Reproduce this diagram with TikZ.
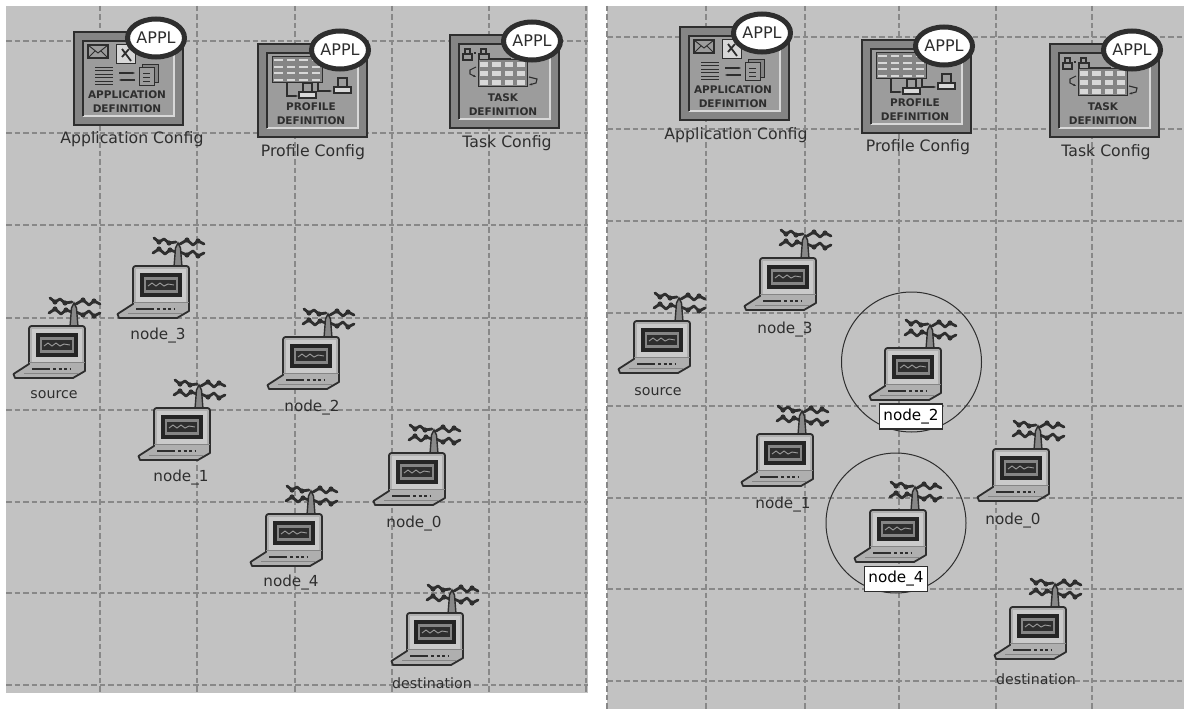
\documentclass[tikz,border=0pt]{standalone}
\usepackage{fontspec}
\setmainfont{DejaVu Sans}
\usetikzlibrary{arrows.meta,shapes.geometric}
\definecolor{panel}{HTML}{C2C2C2}
\definecolor{gridc}{HTML}{888888}
\definecolor{ink}{HTML}{2E2E2E}
\definecolor{band}{HTML}{858585}
\definecolor{inner}{HTML}{9C9C9C}
\definecolor{pale}{HTML}{D8D8D8}
\definecolor{bezel}{HTML}{CACACA}
\tikzset{
  x=1pt,y=-1pt,
  gridline/.style={gridc,line width=1.2pt,dash pattern=on 5.5pt off 3pt},
  nodelabel/.style={inner sep=0pt,text=ink,font=\fontsize{15.2}{15}\selectfont},
  endlabel/.style={inner sep=0pt,text=ink,font=\fontsize{14.2}{15}\selectfont},
  cfglabel/.style={inner sep=0pt,text=ink,font=\fontsize{15.7}{16}\selectfont},
  boxlabel/.style={draw=ink,fill=white,line width=1.2pt,minimum width=63pt,minimum height=25pt,inner sep=0pt,text=black,font=\fontsize{15.2}{15}\selectfont},
  rangecircle/.style={draw=ink,line width=1pt},
  icontitle/.style={inner sep=0pt,text=ink,font=\fontsize{10.5}{10.5}\selectfont\bfseries},
  applbadge/.style={ellipse,draw=ink,fill=white,line width=5pt,minimum width=57pt,minimum height=38pt,inner sep=0pt,text=ink,font=\fontsize{16}{16}\selectfont},
  glyph/.style={draw=ink,line width=1pt},
  branch/.style={ink,line width=2.8pt,line cap=round,line join=round}
}
% laptop: #1 x, #2 y of the lid's top-left corner
\newcommand{\laptop}[2]{%
\begin{scope}[shift={(#1,#2)}]
  \draw[branch] (21,-28) -- (26,-24) -- (31,-27) -- (36,-23) -- (43,-24);
  \draw[branch] (20,-13) -- (26,-17) -- (32,-12) -- (37,-16) -- (43,-14);
  \draw[branch] (47,-22) -- (54,-26) -- (60,-21) -- (65,-25) -- (71,-22);
  \draw[branch] (47,-14) -- (54,-11) -- (60,-15) -- (65,-10) -- (71,-13);
  \foreach \bx/\by in {26/-24,36/-23,26/-17,37/-16,54/-26,65/-25,54/-11,65/-10}{\fill[ink] (\bx,\by) circle (2.6);}
  \draw[ink,fill=gridc,line width=1.4pt] (41,1) -- (42.5,-18) -- (45,-23) -- (47.5,-18) -- (49,1) -- cycle;
  \draw[ink,fill=panel!90!black,line width=1.8pt,line join=round] (-15.5,48) -- (0,38) -- (0,3) [rounded corners=2.5pt] -- (0,0) -- (56,0) [sharp corners] -- (56,45) -- (44,52) -- (-14,52) -- cycle;
  \fill[bezel] (3,3) rectangle (53,36);
  \fill[ink!80!black] (7,7) rectangle (49,31);
  \fill[band] (11,11) rectangle (45,27);
  \fill[ink] (13,14) rectangle (43,24);
  \draw[inner,line width=.9pt] (15,20) -- (19,17) -- (23,20) -- (27,17) -- (31,20) -- (35,18) -- (41,19);
  \draw[band,line width=1pt] (0,36) -- (56,36);
  \draw[band,line width=1pt] (-5,47.5) -- (50,47.5);
  \draw[ink,line width=1.4pt] (3,43) -- (21,43);
  \draw[ink,line width=1.4pt,dash pattern=on 3pt off 2.5pt] (24,43) -- (41,43);
\end{scope}}
% config frame: #1 name, #2 x, #3 y, #4 first title line, #5 second title line, #6 glyphs
\newcommand{\cfgicon}[6]{%
\begin{scope}[shift={(#2,#3)}]
  \fill[band] (0,0) rectangle (109,93);
  \fill[inner] (9,9) rectangle (100,84);
  \draw[pale,line width=1.6pt] (100,9) -- (100,84) -- (9,84);
  \draw[ink,line width=1.6pt] (9,84) -- (9,9) -- (100,9);
  \draw[ink,line width=1.8pt] (0,0) rectangle (109,93);
  #6
  \node[icontitle] (#1t1) at (53,63) {#4};
  \node[icontitle] (#1t2) at (53,76.5) {#5};
  \node[applbadge] (#1b) at (82,6) {APPL};
\end{scope}}
\newcommand{\appglyph}{%
  \draw[glyph,fill=inner,line width=1.2pt] (14,13) rectangle (34,26);
  \draw[glyph] (14,13) -- (24,21) -- (34,13) (14,26) -- (21,19) (34,26) -- (27,19);
  \draw[glyph,fill=pale] (42,13) rectangle (61,32);
  \draw[ink,line width=1.8pt] (48,17) -- (57,29) (55,17) -- (48,25);
  \foreach \yy in {35,38.5,42,45.5,49,52.5}{\draw[ink,line width=.8pt] (21,\yy) -- (39,\yy);}
  \draw[ink,line width=1.1pt,-{Stealth[length=3pt]}] (45,41) -- (61,41);
  \draw[ink,line width=1.1pt,-{Stealth[length=3pt]}] (61,48) -- (45,48);
  \draw[glyph,fill=band] (68,33) rectangle (84,51);
  \draw[glyph,fill=inner] (65,36) rectangle (80,54);
  \draw[ink,line width=.8pt] (69,41) -- (76,41) (69,45) -- (76,45) (69,49) -- (76,49);
}
\newcommand{\tablegrid}[6]{% x0 y0 x1 y1 nx ny
  \draw[glyph,fill=band] (#1,#2) rectangle (#3,#4);
  \pgfmathsetmacro{\dxx}{(#3-#1)/#5}\pgfmathsetmacro{\dyy}{(#4-#2)/#6}
  \foreach \ii in {1,...,#5}{\foreach \jj in {1,...,#6}{
    \fill[pale] ({#1+(\ii-1)*\dxx+2},{#2+(\jj-1)*\dyy+2.2}) rectangle ({#1+\ii*\dxx-2},{#2+\jj*\dyy-2.2});}}
}
\newcommand{\person}[2]{% x y of head's top-left
  \draw[glyph,fill=inner,line width=1.2pt] (#1+4,#2) rectangle (#1+13,#2+9);
  \draw[glyph,fill=pale,line width=1.2pt] (#1,#2+9) rectangle (#1+17,#2+15);
}
\newcommand{\profglyph}{%
  \tablegrid{14}{13}{64}{39}{4}{4}
  \draw[ink,line width=1.2pt,-{Stealth[length=3pt]}] (29,39) -- (29,52) -- (40,52);
  \draw[ink,line width=1.2pt,-{Stealth[length=3pt]}] (60,39) -- (60,47) -- (74,47);
  \person{41}{39}
  \person{76}{34}
}
\newcommand{\taskglyph}{%
  \draw[glyph,fill=inner,line width=1.2pt] (15,14) rectangle (20,19);
  \draw[glyph,fill=inner,line width=1.2pt] (13,19) rectangle (22,25);
  \draw[glyph,fill=inner,line width=1.2pt] (31,14) rectangle (36,19);
  \draw[glyph,fill=inner,line width=1.2pt] (29,19) rectangle (39,25);
  \fill[ink] (24,17) rectangle (26,19);
  \draw[ink,line width=1pt] (40,24) -- (61,24);
  \tablegrid{28}{25}{77}{52}{4}{3}
  \draw[ink,line width=1.1pt,-{Stealth[length=3pt]}] (26,32) -- (20,35) -- (20,39) -- (26,42);
  \draw[ink,line width=1.1pt,-{Stealth[length=3pt]}] (79,42) -- (87,44) -- (86,48) -- (79,50);
}
\begin{document}
\begin{tikzpicture}
\useasboundingbox (0,0) rectangle (1184,709);
\fill[white] (0,0) rectangle (1184,709);
% panels
\fill[panel] (6,6) rectangle (588,693);
\fill[panel] (607,6) rectangle (1184,709);
% grid
\foreach \gx in {100,197,295,392,489,586}{\draw[gridline] (\gx,6) -- (\gx,693);}
\foreach \gy in {41,133,225,318,410,502,593,685}{\draw[gridline] (6,\gy) -- (588,\gy);}
\foreach \gx in {607,706,805,899,996,1092}{\draw[gridline] (\gx,6) -- (\gx,709);}
\foreach \gy in {37,129,221,313,406,498,589,681}{\draw[gridline] (607,\gy) -- (1184,\gy);}
% left panel
\cfgicon{la}{74}{32}{APPLICATION}{DEFINITION}{\appglyph}
\cfgicon{lp}{258}{44}{PROFILE}{DEFINITION}{\profglyph}
\cfgicon{lt}{450}{35}{TASK}{DEFINITION}{\taskglyph}
\node[cfglabel] (lal) at (132,139) {Application Config};
\node[cfglabel] (lpl) at (313,152) {Profile Config};
\node[cfglabel] (ltl) at (507,143) {Task Config};
\laptop{29}{326}\node[endlabel] (ls) at (54,395) {source};
\laptop{133}{266}\node[nodelabel] (l3) at (158,336) {node\_3};
\laptop{283}{337}\node[nodelabel] (l2) at (312,408) {node\_2};
\laptop{154}{408}\node[nodelabel] (l1) at (181,478) {node\_1};
\laptop{389}{453}\node[nodelabel] (l0) at (414,524) {node\_0};
\laptop{266}{514}\node[nodelabel] (l4) at (291,583) {node\_4};
\laptop{407}{613}\node[endlabel] (ld) at (432,683) {destination};
% right panel
\cfgicon{ra}{680}{27}{APPLICATION}{DEFINITION}{\appglyph}
\cfgicon{rp}{862}{40}{PROFILE}{DEFINITION}{\profglyph}
\cfgicon{rt}{1050}{44}{TASK}{DEFINITION}{\taskglyph}
\node[cfglabel] (ral) at (736,135) {Application Config};
\node[cfglabel] (rpl) at (918,147) {Profile Config};
\node[cfglabel] (rtl) at (1106,152) {Task Config};
\laptop{634}{321}\node[endlabel] (rs) at (658,392) {source};
\laptop{760}{258}\node[nodelabel] (r3) at (785,330) {node\_3};
\laptop{757}{434}\node[nodelabel] (r1) at (783,505) {node\_1};
\laptop{993}{449}\node[nodelabel] (r0) at (1013,521) {node\_0};
\laptop{1010}{607}\node[endlabel] (rd) at (1036,679) {destination};
\draw[rangecircle] (911.5,362) circle (70);
\draw[rangecircle] (896,523) circle (70);
\laptop{885}{348}\node[boxlabel] (r2) at (911,416.5) {node\_2};
\laptop{870}{510}\node[boxlabel] (r4) at (896,579) {node\_4};
\end{tikzpicture}
\end{document}
